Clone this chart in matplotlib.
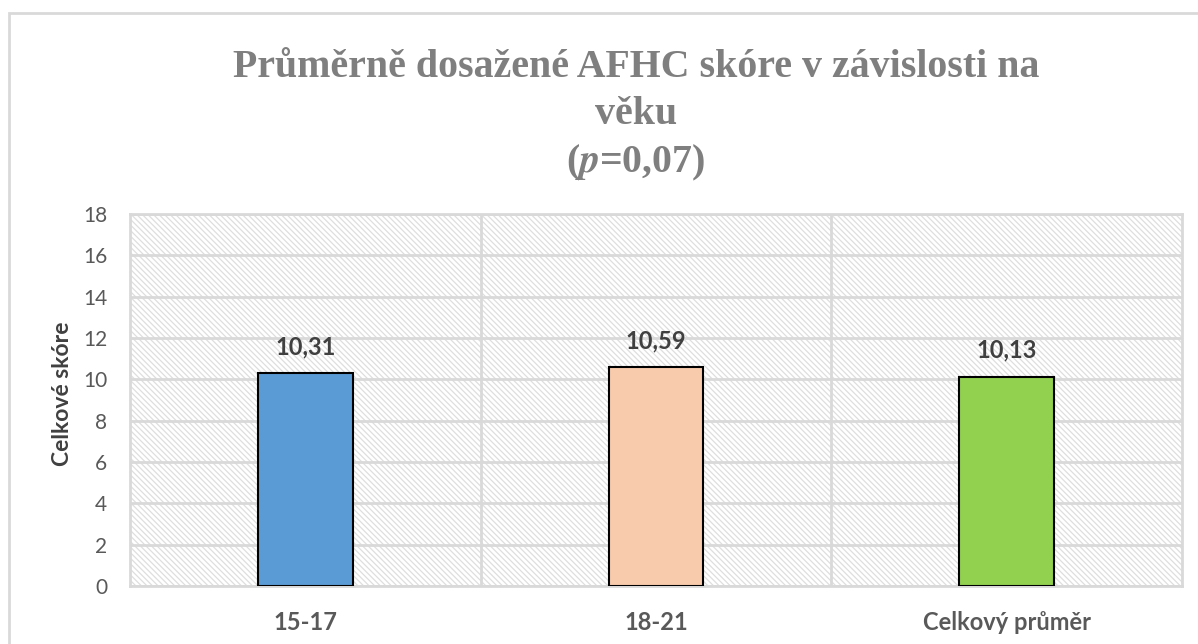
import matplotlib.pyplot as plt
import matplotlib as mpl
from matplotlib.patches import Rectangle

# data
kategorie = ['15-17', '18-21', 'Celkový průměr']
skore = [10.31, 10.59, 10.13]
popisky = ['10,31', '10,59', '10,13']
barvy = ['#5B9BD5', '#F8CBAD', '#92D050']
yticks = [0, 2, 4, 6, 8, 10, 12, 14, 16, 18]

mpl.rcParams['hatch.color'] = '#dedede'
mpl.rcParams['hatch.linewidth'] = 0.9

fig = plt.figure(figsize=(11.98, 6.44), dpi=100)
fig.patch.set_facecolor('white')

# ramecek grafu
fig.patches.append(Rectangle((9 / 1198, -0.1), 1.2, 1 - 13 / 644 + 0.1,
                             transform=fig.transFigure, fill=False,
                             edgecolor='#d9d9d9', linewidth=2))

ax = fig.add_axes([130 / 1198, 1 - 586 / 644, (1182 - 130) / 1198, (586 - 214) / 644])
ax.patch.set_facecolor('white')
ax.patch.set_hatch('\\' * 6)
ax.patch.set_edgecolor('#dedede')

pismo = 'Lato'
x = range(len(kategorie))
bars = ax.bar(x, skore, width=0.27, color=barvy, edgecolor='black', linewidth=1.5, zorder=3)
for b, t in zip(bars, popisky):
    ax.text(b.get_x() + b.get_width() / 2, b.get_height() + 1.28, t,
            ha='center', va='center', fontsize=17, fontweight='bold',
            color='#404040', family=pismo)

ax.set_xlim(-0.5, len(kategorie) - 0.5)
ax.set_ylim(0, 18)
ax.set_yticks(yticks)
ax.set_xticks([0.5, 1.5], minor=True)
ax.set_xticks(list(x))
ax.set_xticklabels(kategorie, fontsize=17, fontweight='bold', color='#595959', family=pismo)
for lab in ax.get_yticklabels():
    lab.set_fontsize(15)
    lab.set_color('#595959')
    lab.set_family(pismo)

ax.grid(axis='y', which='major', color='#d9d9d9', linewidth=2, zorder=1)
ax.grid(axis='x', which='minor', color='#d9d9d9', linewidth=2, zorder=1)
ax.set_axisbelow(True)
ax.tick_params(axis='both', which='both', length=0)
ax.tick_params(axis='x', pad=18)
ax.tick_params(axis='y', pad=16.5)
for s in ax.spines.values():
    s.set_color('#d9d9d9')
    s.set_linewidth(2)

ax.set_ylabel('Celkové skóre', fontsize=16.5, fontweight='bold', color='#404040',
              family=pismo, va='center')
ax.yaxis.set_label_coords(-0.0646, 0.516)

cx = 636 / 1198
titul = dict(ha='center', va='baseline', fontsize=28.7, fontweight='bold',
             color='#7f7f7f', family='Liberation Serif')
fig.text(cx, 1 - 77 / 644, 'Průměrně dosažené AFHC skóre v závislosti na', **titul)
fig.text(cx, 1 - 124 / 644, 'věku', **titul)
fig.text(cx, 1 - 172 / 644, r'($\mathbfit{p}$=0,07)', math_fontfamily='stix', **titul)

fig.savefig('out.png', dpi=100)
